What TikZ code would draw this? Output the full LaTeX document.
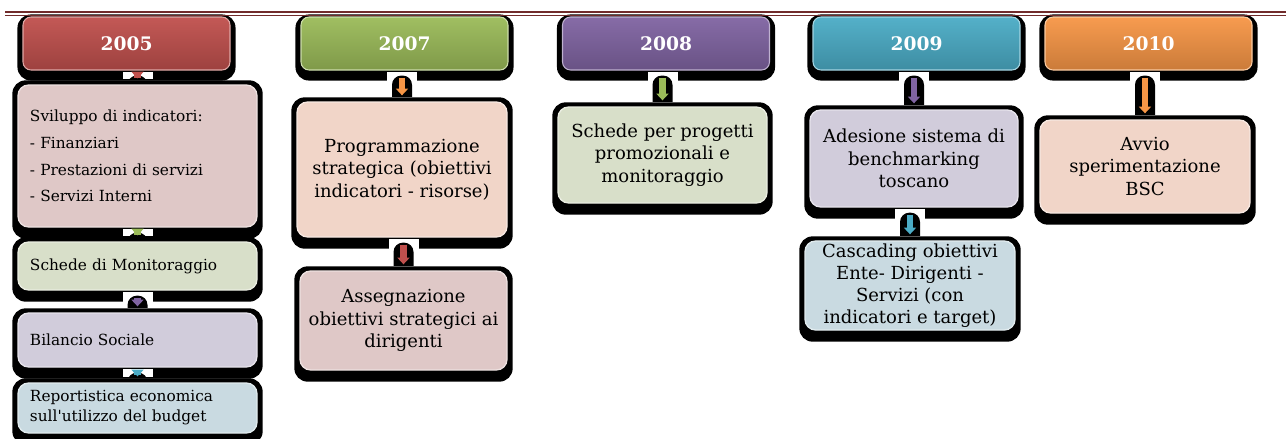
\documentclass[tikz,border=0pt]{standalone}
\usepackage{fontspec}
\setmainfont{DejaVu Serif}[Ligatures=TeXOff]
\usetikzlibrary{calc,arrows.meta,backgrounds}
\definecolor{cred}{HTML}{C0504D}
\definecolor{cgreen}{HTML}{9BBB59}
\definecolor{cpurple}{HTML}{8064A2}
\definecolor{ccyan}{HTML}{4BACC6}
\definecolor{corange}{HTML}{F79646}
\definecolor{ppink}{HTML}{DFC8C7}
\definecolor{pgreen}{HTML}{D8DFC9}
\definecolor{plav}{HTML}{D1CCDB}
\definecolor{pblue}{HTML}{C9DAE1}
\definecolor{ppeach}{HTML}{F1D5C8}
\definecolor{rule}{HTML}{712B2B}
\tikzset{
  hdr/.style={rectangle, rounded corners=6pt, minimum width=155.25pt, minimum height=39.75pt,
    inner sep=0pt, text=white, font=\fontsize{14}{17}\selectfont\bfseries,
    top color=#1!95!white, bottom color=#1!82!black, draw=#1!50!white, line width=0.8pt},
  det/.style={rectangle, rounded corners=8pt, fill=#1, draw=white!45!#1, line width=1pt,
    align=center, inner sep=2pt, font=\fontsize{13.5}{17}\selectfont},
  lst/.style={rectangle, rounded corners=8pt, fill=#1, draw=white!45!#1, line width=1pt,
    align=left, text width=161.25pt, inner xsep=9pt, inner ysep=0pt, minimum width=179.25pt,
    font=\fontsize{11.5}{15}\selectfont},
  shad/.style={fill=black, rounded corners=10pt},
}
\newcommand\conn[3]{%
  \path (#1.south -| #2.north) ++(0,1) coordinate (ct);
  \path (#2.north) ++(0,-5) coordinate (cb);
  \fill[white] ($(ct)+(-15,0)$) rectangle ($(cb)+(15,0)$);
  \begin{scope}
    \clip ($(ct)+(-15,0)$) rectangle ($(cb)+(15,0)$);
    \fill[black, rounded corners=7pt] ($(ct)+(-10,4)$) rectangle ($(cb)+(10,12)$);
    \draw[line width=5pt, draw=#3, -{Triangle[length=5pt,width=9pt]}] ($(ct)+(0,6)$) -- ($(cb)+(0,-1)$);
  \end{scope}
}
\begin{document}
\begin{tikzpicture}[x=0.75pt,y=-0.75pt]
\useasboundingbox (0,0) rectangle (1286,439);

% year headers
\node[hdr=cred]    (h5)  at (126.5,43.5) {2005};
\node[hdr=cgreen]  (h7)  at (404.5,43.5) {2007};
\node[hdr=cpurple] (h8)  at (666,43.5)   {2008};
\node[hdr=ccyan]   (h9)  at (916.5,43.5) {2009};
\node[hdr=corange] (h10) at (1148.5,43.5) {2010};

% 2005 column
\node[lst=ppink, minimum height=106.5pt, font=\fontsize{11.5}{20}\selectfont] (d5a) at (137.5,156)
  {Sviluppo di indicatori:\\- Finanziari\\- Prestazioni di servizi\\- Servizi Interni};
\node[lst=pgreen, minimum height=36pt] (d5b) at (137.5,266) {Schede di Monitoraggio};
\node[lst=plav, minimum height=40.5pt] (d5c) at (137.5,340) {Bilancio Sociale};
\node[lst=pblue, minimum height=37.5pt] (d5d) at (137.5,408)
  {Reportistica economica\\sull'utilizzo del budget};

% 2007 column
\node[det=ppeach, minimum width=157.5pt, minimum height=101.25pt] (d7a) at (402,169.5)
  {Programmazione\\strategica (obiettivi\\indicatori - risorse)};
\node[det=ppink, minimum width=155.25pt, minimum height=74.25pt] (d7b) at (403.5,320.5)
  {Assegnazione\\obiettivi strategici ai\\dirigenti};

% 2008 column
\node[det=pgreen, minimum width=156.75pt, minimum height=72pt] (d8) at (662.5,155)
  {Schede per progetti\\promozionali e\\monitoraggio};

% 2009 column
\node[det=plav, minimum width=156pt, minimum height=72.75pt] (d9a) at (914,158.5)
  {Adesione sistema di\\benchmarking\\toscano};
\node[det=pblue, minimum width=157.5pt, minimum height=66.75pt, font=\fontsize{13.5}{16.5}\selectfont] (d9b) at (910,285.5)
  {Cascading obiettivi\\Ente- Dirigenti -\\Servizi (con\\indicatori e target)};

% 2010 column
\node[det=ppeach, minimum width=157.5pt, minimum height=69.75pt] (d10) at (1145,166.5)
  {Avvio\\sperimentazione\\BSC};

\begin{scope}[on background layer]
  \fill[white] (0,0) rectangle (1286,439);
  \foreach \n in {h5,h7,h8,h9,h10} {
    \fill[shad] ($(\n.north west)+(-5,-2)$) rectangle ($(\n.south east)+(5,10)$);
  }
  \foreach \n in {d5a,d5b,d5c,d5d,d7a,d7b,d8,d9a,d9b,d10} {
    \fill[shad] ($(\n.north west)+(-5,-4)$) rectangle ($(\n.south east)+(5,11)$);
  }
\end{scope}

% top rule
\draw[rule, line width=2.2pt] (5,12) -- (1286,12);
\draw[rule, line width=0.7pt] (5,15.5) -- (1286,15.5);

% connectors
\conn{h5}{d5a}{cred}
\conn{d5a}{d5b}{cgreen}
\conn{d5b}{d5c}{cpurple}
\conn{d5c}{d5d}{ccyan}
\conn{h7}{d7a}{corange}
\conn{d7a}{d7b}{cred}
\conn{h8}{d8}{cgreen}
\conn{h9}{d9a}{cpurple}
\conn{d9a}{d9b}{ccyan}
\conn{h10}{d10}{corange}
\end{tikzpicture}
\end{document}
